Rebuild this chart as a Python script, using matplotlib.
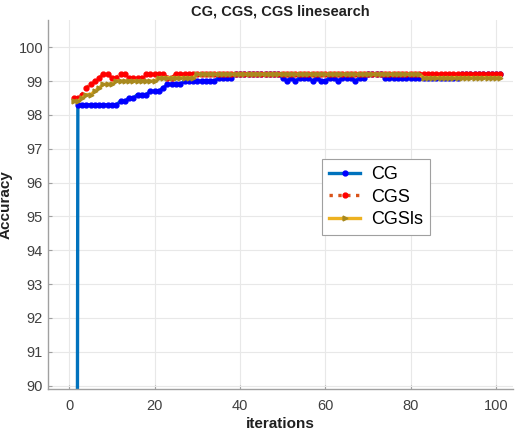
import matplotlib
matplotlib.use("Agg")
import matplotlib.pyplot as plt
import numpy as np

# ---------------------------------------------------------------------------
# Data (accuracy per iteration)
# ---------------------------------------------------------------------------
iterations = list(range(1, 102))

acc_cg = [
    10.0, 98.3, 98.3, 98.3, 98.3, 98.3, 98.3, 98.3, 98.3, 98.3,
    98.3, 98.4, 98.4, 98.5, 98.5, 98.6, 98.6, 98.6, 98.7, 98.7,
    98.7, 98.8, 98.9, 98.9, 98.9, 98.9, 99.0, 99.0, 99.0, 99.0,
    99.0, 99.0, 99.0, 99.0, 99.1, 99.1, 99.1, 99.1, 99.2, 99.2,
    99.2, 99.2, 99.2, 99.2, 99.2, 99.2, 99.2, 99.2, 99.2, 99.1,
    99.0, 99.1, 99.0, 99.1, 99.1, 99.1, 99.0, 99.1, 99.0, 99.0,
    99.1, 99.1, 99.0, 99.1, 99.1, 99.1, 99.0, 99.1, 99.1, 99.2,
    99.2, 99.2, 99.2, 99.1, 99.1, 99.1, 99.1, 99.1, 99.1, 99.1,
    99.1, 99.1, 99.1, 99.1, 99.1, 99.1, 99.1, 99.1, 99.1, 99.1,
    99.1, 99.2, 99.2, 99.2, 99.2, 99.2, 99.2, 99.2, 99.2, 99.2,
    99.2,
]

acc_cgs = [
    98.5, 98.5, 98.6, 98.8, 98.9, 99.0, 99.1, 99.2, 99.2, 99.1,
    99.1, 99.2, 99.2, 99.1, 99.1, 99.1, 99.1, 99.2, 99.2, 99.2,
    99.2, 99.2, 99.1, 99.1, 99.2, 99.2, 99.2, 99.2, 99.2, 99.2,
    99.2, 99.2, 99.2, 99.2, 99.2, 99.2, 99.2, 99.2, 99.2, 99.2,
    99.2, 99.2, 99.2, 99.2, 99.2, 99.2, 99.2, 99.2, 99.2, 99.2,
    99.2, 99.2, 99.2, 99.2, 99.2, 99.2, 99.2, 99.2, 99.2, 99.2,
    99.2, 99.2, 99.2, 99.2, 99.2, 99.2, 99.2, 99.2, 99.2, 99.2,
    99.2, 99.2, 99.2, 99.2, 99.2, 99.2, 99.2, 99.2, 99.2, 99.2,
    99.2, 99.2, 99.2, 99.2, 99.2, 99.2, 99.2, 99.2, 99.2, 99.2,
    99.2, 99.2, 99.2, 99.2, 99.2, 99.2, 99.2, 99.2, 99.2, 99.2,
    99.2,
]

acc_cgsls = [
    98.4, 98.4, 98.5, 98.6, 98.6, 98.7, 98.8, 98.9, 98.9, 98.9,
    99.0, 99.0, 99.0, 99.0, 99.0, 99.0, 99.0, 99.0, 99.0, 99.0,
    99.1, 99.1, 99.1, 99.1, 99.1, 99.1, 99.1, 99.1, 99.1, 99.2,
    99.2, 99.2, 99.2, 99.2, 99.2, 99.2, 99.2, 99.2, 99.2, 99.2,
    99.2, 99.2, 99.2, 99.2, 99.2, 99.2, 99.2, 99.2, 99.2, 99.2,
    99.2, 99.2, 99.2, 99.2, 99.2, 99.2, 99.2, 99.2, 99.2, 99.2,
    99.2, 99.2, 99.2, 99.2, 99.2, 99.2, 99.2, 99.2, 99.2, 99.2,
    99.2, 99.2, 99.2, 99.2, 99.2, 99.2, 99.2, 99.2, 99.2, 99.2,
    99.2, 99.2, 99.1, 99.1, 99.1, 99.1, 99.1, 99.1, 99.1, 99.1,
    99.1, 99.1, 99.1, 99.1, 99.1, 99.1, 99.1, 99.1, 99.1, 99.1,
    99.1,
]

series_names = ["CG", "CGS", "CGSls"]
x_ticks = [0, 20, 40, 60, 80, 100]
y_ticks = [90, 91, 92, 93, 94, 95, 96, 97, 98, 99, 100]

# ---------------------------------------------------------------------------
# Figure (MATLAB-like look)
# ---------------------------------------------------------------------------
plt.rcParams["font.family"] = ["Liberation Sans", "DejaVu Sans"]

fig = plt.figure(figsize=(5.25, 4.32), dpi=100)
ax = fig.add_axes([0.0914, 0.0995, 0.886, 0.854])

ax.plot(iterations, acc_cg, color="#0072BD", linestyle="-", linewidth=2.4,
        marker=".", markersize=7, markerfacecolor="#0000FF",
        markeredgecolor="#0000FF", label=series_names[0])
ax.plot(iterations, acc_cgs, color="#D95319", linestyle=":", linewidth=2.4,
        marker=".", markersize=7, markerfacecolor="#FF0000",
        markeredgecolor="#FF0000", label=series_names[1])
ax.plot(iterations, acc_cgsls, color="#EDB120", linestyle="-", linewidth=2.4,
        marker=">", markersize=3.5, markerfacecolor="#A8891E",
        markeredgecolor="#A8891E", label=series_names[2])

ax.set_xlim(-5, 104)
ax.set_ylim(89.9, 100.8)
ax.set_xticks(x_ticks)
ax.set_yticks(y_ticks)

ax.grid(True, color="#e8e8e8", linewidth=0.8)
ax.set_axisbelow(True)
for side in ["top", "right"]:
    ax.spines[side].set_visible(False)
for side in ["bottom", "left"]:
    ax.spines[side].set_color("#a0a0a0")
    ax.spines[side].set_linewidth(1.0)
ax.tick_params(direction="in", length=3, color="#a0a0a0",
               labelcolor="#404040", labelsize=10.5)
ax.tick_params(axis="x", pad=7)

ax.set_title("CG, CGS, CGS linesearch", fontsize=10.5, fontweight="bold",
             color="#202020", pad=3)
ax.set_xlabel("iterations", fontsize=11, fontweight="bold", color="#202020",
              labelpad=3)
ax.set_ylabel("Accuracy", fontsize=11, fontweight="bold", color="#202020",
              labelpad=4)

leg = ax.legend(loc="upper left", bbox_to_anchor=(322 / 525, 1 - 159 / 432),
                bbox_transform=fig.transFigure, borderaxespad=0, fontsize=13,
                frameon=True, fancybox=False, edgecolor="#a0a0a0",
                framealpha=1, handlelength=1.7, handletextpad=0.6,
                borderpad=0.4, labelspacing=0.3)
leg.get_frame().set_linewidth(0.8)

fig.savefig("out.png", dpi=100)
